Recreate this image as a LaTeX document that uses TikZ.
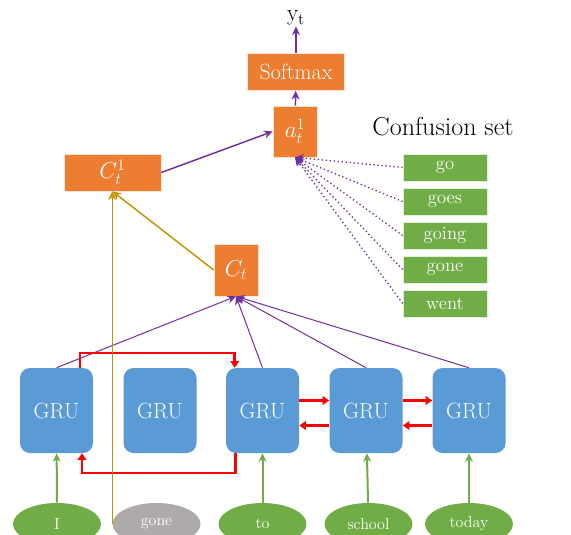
\documentclass[tikz,border=0pt]{standalone}
\usepackage{amssymb}
\usepackage{amsmath}
\usepackage{tikz}
\usetikzlibrary{arrows.meta,shapes.geometric,calc}
\definecolor{boxorange}{HTML}{ED7D31}
\definecolor{wordgreen}{HTML}{70AD47}
\definecolor{grublue}{HTML}{5B9BD5}
\definecolor{wordgray}{HTML}{AEAAAA}
\definecolor{linepurple}{HTML}{7030A0}
\definecolor{linegold}{HTML}{C49400}

\begin{document}
\begin{tikzpicture}[x=0.75pt,y=0.75pt,yscale=-1,xscale=1,
  obox/.style={fill=boxorange, draw=white!80!boxorange, line width=0.5pt, text=white, inner sep=0pt},
  gbox/.style={fill=wordgreen, draw=white!80!wordgreen, line width=0.5pt, text=white, inner sep=0pt, minimum width=63pt, minimum height=20.25pt, font=\fontsize{14}{16}\selectfont},
  grubox/.style={fill=grublue, rounded corners=7.5pt, text=white, inner sep=0pt, minimum width=54.75pt, minimum height=63.75pt, font=\fontsize{16.5}{18}\selectfont},
  wordnode/.style={ellipse, fill=wordgreen, text=white, inner sep=0pt, minimum width=66pt, minimum height=31.5pt, font=\fontsize{12}{14}\selectfont},
  purparrow/.style={draw=linepurple, line width=1.1pt, -{Stealth[length=6.5pt,width=6pt]}},
  thinarrow/.style={draw=linepurple, line width=0.75pt, -{Stealth[length=6.5pt,width=6pt]}},
  dotarrow/.style={draw=linepurple, line width=1pt, dotted, -{Stealth[length=6.5pt,width=6pt]}},
  goldarrow/.style={draw=linegold, line width=1.1pt, -{Stealth[length=6.5pt,width=6pt]}},
  redarrow/.style={draw=red, line width=2pt, -{Triangle[length=5pt,width=6.5pt]}},
  greenarrow/.style={draw=wordgreen, line width=1.5pt, -{Stealth[length=6.5pt,width=6pt]}}
]
\useasboundingbox (0,0) rectangle (571,535);

% Text Node
\draw (296,18) node (yt) [inner sep=0.75pt, font=\fontsize{18}{20}\selectfont] {$\mathrm{y}_{\mathrm{t}}$};
% Text Node
\draw (296,72) node (softmax) [obox, minimum width=72.75pt, minimum height=27.75pt, font=\fontsize{16.5}{18}\selectfont] {Softmax};
% Text Node
\draw (295,131.5) node (at) [obox, minimum width=33pt, minimum height=38.25pt, font=\fontsize{18}{20}\selectfont] {$a_t^1$};
% Text Node
\draw (112.5,172.5) node (cone) [obox, minimum width=72.75pt, minimum height=27.75pt, font=\fontsize{18}{20}\selectfont] {$C_t^1$};
% Text Node
\draw (236,270) node (ct) [obox, minimum width=33pt, minimum height=39pt, font=\fontsize{18}{20}\selectfont] {$C_t$};
% Text Node
\draw (443,127) node (cset) [inner sep=0.75pt, font=\fontsize{19.5}{22}\selectfont] {Confusion set};
% Text Node
\draw (445,167.5) node (go) [gbox] {go};
% Text Node
\draw (445,201.5) node (goes) [gbox] {goes};
% Text Node
\draw (445,235.5) node (going) [gbox] {going};
% Text Node
\draw (445,269.5) node (gonecs) [gbox] {gone};
% Text Node
\draw (445,303.5) node (went) [gbox] {went};

% Text Node
\draw (56.5,410.5) node (gru1) [grubox] {GRU};
% Text Node
\draw (160,410.5) node (gru2) [grubox] {GRU};
% Text Node
\draw (262.5,410.5) node (gru3) [grubox] {GRU};
% Text Node
\draw (366,410.5) node (gru4) [grubox] {GRU};
% Text Node
\draw (469,410.5) node (gru5) [grubox] {GRU};

% Text Node
\draw (57,524) node (wi) [wordnode] {I};
% Text Node
\draw (156.5,524) node (wgone) [wordnode, fill=wordgray] {gone};
% Text Node
\draw (262.5,524) node (wto) [wordnode] {to};
% Text Node
\draw (368.5,524) node (wschool) [wordnode] {school};
% Text Node
\draw (469,524) node (wtoday) [wordnode] {today};

% Connection
\draw [purparrow] (softmax) -- (yt);
% Connection
\draw [purparrow] (at) -- (softmax);
% Connection
\draw [purparrow] (cone.east) -- (at.west);
% Connection
\draw [dotarrow] (go.west) -- (at.south);
% Connection
\draw [dotarrow] (goes.west) -- (at.south);
% Connection
\draw [dotarrow] (going.west) -- (at.south);
% Connection
\draw [dotarrow] (gonecs.west) -- (at.south);
% Connection
\draw [dotarrow] (went.west) -- (at.south);
% Connection
\draw [thinarrow] (gru1.north) -- (ct.south);
% Connection
\draw [thinarrow] (gru3.north) -- (ct.south);
% Connection
\draw [thinarrow] (gru4.north) -- (ct.south);
% Connection
\draw [thinarrow] (gru5.north) -- (ct.south);
% Connection
\draw [goldarrow] (ct.west) -- (cone.south);

% Connection
\coordinate (rtop) at (80,353);
\draw [redarrow] (gru1.north -| rtop) -- (rtop) -| ($(gru3.north west)+(9,0)$);
% Connection
\coordinate (rbot) at (82,473);
\draw [redarrow] ($(gru3.south west)+(10,0)$) |- (rbot) -- (rbot |- gru1.south);
% Connection
\draw [redarrow] ($(gru3.east)+(0,-10)$) -- ($(gru4.west)+(0,-10)$);
% Connection
\draw [redarrow] ($(gru4.west)+(0,15)$) -- ($(gru3.east)+(0,15)$);
% Connection
\draw [redarrow] ($(gru4.east)+(0,-10)$) -- ($(gru5.west)+(0,-10)$);
% Connection
\draw [redarrow] ($(gru5.west)+(0,15)$) -- ($(gru4.east)+(0,15)$);

% Connection
\draw [goldarrow] (wgone.west) -- (wgone.west |- cone.south);
% Connection
\draw [greenarrow] (wi) -- (gru1);
% Connection
\draw [greenarrow] (wto) -- (gru3);
% Connection
\draw [greenarrow] (wschool) -- (gru4);
% Connection
\draw [greenarrow] (wtoday) -- (gru5);

\end{tikzpicture}
\end{document}
